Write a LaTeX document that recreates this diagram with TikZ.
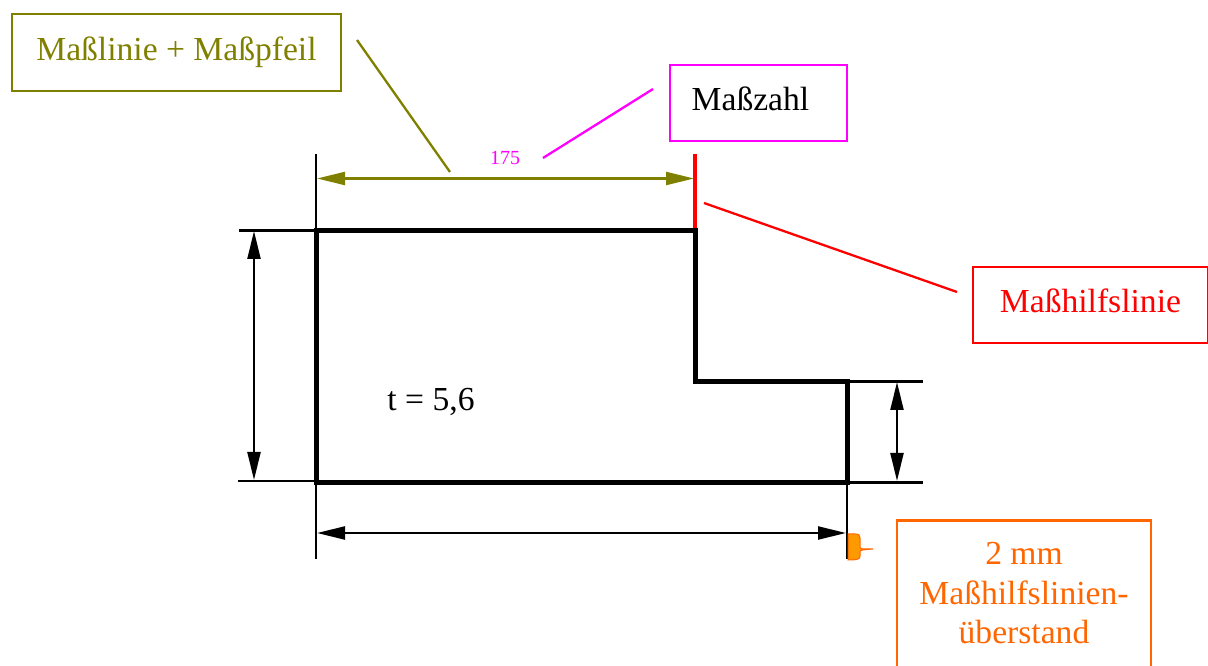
\documentclass[tikz,border=0pt]{standalone}
\usepackage{fontspec}
\setmainfont{Liberation Serif}
\usetikzlibrary{arrows.meta}
\definecolor{olv}{RGB}{128,128,0}
\definecolor{mag}{RGB}{255,0,255}
\definecolor{org}{RGB}{255,102,0}
\definecolor{orgfill}{RGB}{255,153,0}
\newcommand{\px}{0.75pt}
\tikzset{
  box/.style={draw=#1,text=#1,line width=2.4*\px,rectangle,inner sep=0pt,align=center,font=\fontsize{25.2}{29}\selectfont},
  dim/.style={line width=2.2*\px,{Triangle[length=28*\px,width=13*\px]}-{Triangle[length=28*\px,width=13*\px]}},
  ext/.style={line width=2.6*\px,black},
  leader/.style={line width=2.3*\px,#1},
  outline/.style={line width=5*\px,black,line join=miter},
}
\begin{document}
\begin{tikzpicture}[x=0.75pt,y=-0.75pt]
\useasboundingbox (0,0) rectangle (1208,666);
% part outline
\coordinate (A) at (316,230.5);
\coordinate (B) at (695,230.5);
\coordinate (C) at (695,381.5);
\coordinate (D) at (847,381.5);
\coordinate (E) at (847,482.5);
\coordinate (F) at (316,482.5);
% extension lines
\coordinate (LT) at (316,154);
\coordinate (LB) at (316,559);
\coordinate (RT) at (695,154);
\coordinate (RB) at (847,559);
\coordinate (HA) at (239,230.5);
\coordinate (HF) at (238,481);
\coordinate (HD) at (923,381.5);
\coordinate (HE) at (923,482.5);
\draw[ext] (LT) -- (LB);
\draw[ext] (E) -- (RB);
\draw[ext] (HA) -- (A);
\draw[ext] (HF) -- (316,481);
\draw[ext] (D) -- (HD);
\draw[ext] (E) -- (HE);
\draw[line width=3.4*\px,red] (RT) -- (B);
\draw[outline] (A) -- (B) -- (C) -- (D) -- (E) -- (F) -- cycle;
% dimension lines
\coordinate (D1a) at (317,178.5);
\coordinate (D1b) at (694,178.5);
\coordinate (D2a) at (254,231);
\coordinate (D2b) at (254,480);
\coordinate (D3a) at (897,382);
\coordinate (D3b) at (897,481);
\coordinate (D4a) at (317,533);
\coordinate (D4b) at (846,533);
\draw[dim,olv] (D1a) -- (D1b);
\draw[dim] (D2a) -- (D2b);
\draw[dim] (D3a) -- (D3b);
\draw[dim] (D4a) -- (D4b);
% overhang mark
\draw[org,fill=orgfill,line width=1*\px] (848,534) -- (855,534) .. controls (859,534) and (860,535) .. (860,538) -- (860,547) .. controls (860,549) and (861,549) .. (873,549) .. controls (861,550) and (860,550) .. (860,552) -- (860,556) .. controls (860,559) and (858,560) .. (848,560) -- cycle;
% labels
\node[box=olv,minimum width=329*\px,minimum height=77*\px] (ml) at (176.5,52.5) {\raisebox{4pt}{Maßlinie + Maßpfeil}};
\node[box=mag,text=black,minimum width=177*\px,minimum height=76*\px] (mz) at (758.5,103) {\raisebox{6pt}{Maßzahl}\hspace{12pt}};
\node[box=red,minimum width=235*\px,minimum height=76*\px] (mh) at (1090.5,305) {\raisebox{6pt}{Maßhilfslinie}};
\node[box=org,minimum width=254*\px,minimum height=147*\px,anchor=north] (ue) at (1024,519.5) {\raisebox{3pt}{2 mm}\\\raisebox{2pt}{Maßhilfslinien-}\\\raisebox{2pt}{überstand}};
\node[text=mag,inner sep=0pt,font=\fontsize{15}{18}\selectfont] (zahl) at (505,158) {175};
\node[text=black,inner sep=0pt,font=\fontsize{25.2}{29}\selectfont] (t) at (431,402) {t = 5,6};
% leaders
\coordinate (l1a) at (357,40);
\coordinate (l1b) at (450,172);
\coordinate (l2a) at (543,158);
\coordinate (l2b) at (653,89);
\coordinate (l3a) at (704,203);
\coordinate (l3b) at (957,292);
\draw[leader=olv] (l1a) -- (l1b);
\draw[leader=mag] (l2a) -- (l2b);
\draw[leader=red] (l3a) -- (l3b);
\end{tikzpicture}
\end{document}
